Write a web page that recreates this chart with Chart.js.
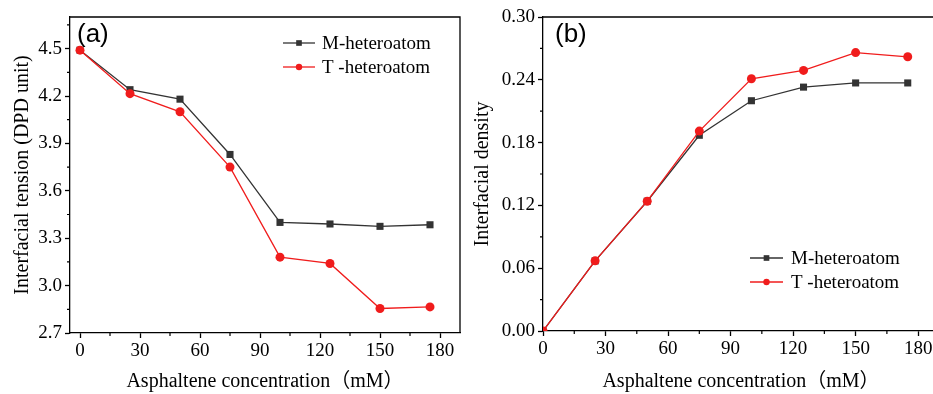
<!DOCTYPE html>
<html><head><meta charset="utf-8">
<script src="https://cdn.jsdelivr.net/npm/chart.js@4/dist/chart.umd.min.js"></script>
<style>
html,body{margin:0;padding:0;background:#fff;overflow:hidden;width:933px;height:394px;}
#wa{position:absolute;left:0;top:0;width:470px;height:394px;}
#wb{position:absolute;left:470px;top:0;width:480px;height:394px;}
canvas{display:block;}
</style></head><body>
<div id="wa"><canvas id="ca" width="470" height="394"></canvas></div>
<div id="wb"><canvas id="cb" width="480" height="394"></canvas></div>
<script>
// ---- data ----
const concentrations = [0, 25, 50, 75, 100, 125, 150, 175];
const tensionM = [4.49, 4.24, 4.18, 3.83, 3.40, 3.39, 3.375, 3.385];
const tensionT = [4.49, 4.215, 4.10, 3.75, 3.18, 3.14, 2.855, 2.865];
const densityM = [0, 0.067, 0.124, 0.187, 0.220, 0.233, 0.237, 0.237];
const densityT = [0, 0.067, 0.124, 0.191, 0.241, 0.249, 0.266, 0.262];
const seriesNames = ['M-heteroatom', 'T -heteroatom'];
const xTicks = [0, 30, 60, 90, 120, 150, 180];
const xMinorTicks = [15, 45, 75, 105, 135, 165];
const tensionTicks = [2.7, 3.0, 3.3, 3.6, 3.9, 4.2, 4.5];
const tensionMinorTicks = [2.85, 3.15, 3.45, 3.75, 4.05, 4.35, 4.65];
const densityTicks = [0, 0.06, 0.12, 0.18, 0.24, 0.30];
const densityMinorTicks = [0.03, 0.09, 0.15, 0.21, 0.27];
const xTitle = 'Asphaltene concentration（mM）';
const yTitleA = 'Interfacial tension (DPD unit)';
const yTitleB = 'Interfacial density';

// ---- styles ----
const SERIF = '"Liberation Serif", "Times New Roman", "Noto Sans CJK SC", serif';
const colM = '#333333';
const colT = '#f01c1c';

const pts = (ys) => concentrations.map((x, i) => ({x: x, y: ys[i]}));

function makeDatasets(mVals, tVals) {
  return [
    {label: seriesNames[0], data: pts(mVals), borderColor: colM, backgroundColor: colM,
     pointBackgroundColor: colM, pointBorderColor: colM, pointStyle: 'rect', pointRadius: 5,
     borderWidth: 1.3, pointBorderWidth: 0, order: 1, legendRadius: 4},
    {label: seriesNames[1], data: pts(tVals), borderColor: colT, backgroundColor: colT,
     pointBackgroundColor: colT, pointBorderColor: colT, pointStyle: 'circle', pointRadius: 4.5,
     borderWidth: 1.3, pointBorderWidth: 0, order: 0, legendRadius: 3.2}
  ];
}

const framePlugin = {
  id: 'frame',
  afterDraw(chart) {
    const {ctx, chartArea: a} = chart;
    ctx.save();
    ctx.strokeStyle = '#000'; ctx.lineWidth = 1.3;
    ctx.beginPath();
    ctx.moveTo(a.left, a.top); ctx.lineTo(a.right, a.top); ctx.lineTo(a.right, a.bottom);
    ctx.stroke();
    ctx.restore();
  }
};

const minorTicksPlugin = {
  id: 'minorTicks',
  afterDraw(chart, args, opts) {
    const {ctx, chartArea: a} = chart;
    const xs = chart.scales.x, ys = chart.scales.y;
    ctx.save();
    ctx.strokeStyle = '#000'; ctx.lineWidth = 1.2;
    ctx.beginPath();
    (opts.x || []).forEach(v => {
      const p = xs.getPixelForValue(v);
      if (p < a.left || p > a.right) return;
      ctx.moveTo(p, a.bottom); ctx.lineTo(p, a.bottom + 3);
    });
    (opts.y || []).forEach(v => {
      const p = ys.getPixelForValue(v);
      if (p < a.top || p > a.bottom) return;
      ctx.moveTo(a.left, p); ctx.lineTo(a.left - 3, p);
    });
    ctx.stroke();
    ctx.restore();
  }
};

const legendPlugin = {
  id: 'boxLegend',
  afterDraw(chart, args, opts) {
    const ctx = chart.ctx;
    ctx.save();
    ctx.font = opts.font;
    ctx.textBaseline = 'middle';
    ctx.textAlign = 'left';
    chart.data.datasets.forEach((ds, i) => {
      const y = opts.y + i * opts.rowGap;
      ctx.strokeStyle = ds.borderColor; ctx.lineWidth = ds.borderWidth;
      ctx.beginPath(); ctx.moveTo(opts.x, y); ctx.lineTo(opts.x + opts.lineLen, y); ctx.stroke();
      ctx.fillStyle = ds.pointBackgroundColor;
      Chart.helpers.drawPoint(ctx, {pointStyle: ds.pointStyle, radius: ds.legendRadius, rotation: 0, borderWidth: 0}, opts.x + opts.lineLen / 2, y);
      ctx.fillStyle = '#000';
      ctx.fillText(ds.label, opts.x + opts.lineLen + opts.gap, y + 1);
    });
    ctx.restore();
  }
};

const panelLabelPlugin = {
  id: 'panelLabel',
  afterDraw(chart, args, opts) {
    const ctx = chart.ctx;
    ctx.save();
    ctx.font = '26px "Liberation Sans", Arial, sans-serif';
    ctx.fillStyle = '#000';
    ctx.textBaseline = 'top';
    ctx.textAlign = 'left';
    ctx.fillText(opts.text, opts.x, opts.y);
    ctx.restore();
  }
};

function makeChart(canvasId, cfg) {
  return new Chart(document.getElementById(canvasId), {
    type: 'line',
    data: {datasets: cfg.datasets},
    plugins: [framePlugin, minorTicksPlugin, legendPlugin, panelLabelPlugin],
    options: {
      responsive: false,
      animation: false,
      devicePixelRatio: 1,
      layout: {padding: {top: 17, right: cfg.padRight, left: 0, bottom: 0}},
      plugins: {
        legend: {display: false},
        tooltip: {enabled: false},
        minorTicks: {x: xMinorTicks, y: cfg.yMinor},
        boxLegend: cfg.legend,
        panelLabel: cfg.label
      },
      scales: {
        x: {
          type: 'linear', min: cfg.xMin, max: cfg.xMax,
          afterBuildTicks: s => { s.ticks = xTicks.map(v => ({value: v})); },
          afterFit: s => { s.height = cfg.xHeight; },
          border: {display: true, color: '#000', width: 1.3},
          grid: {drawOnChartArea: false, drawTicks: true, tickLength: 5, tickColor: '#000', tickWidth: 1.3},
          ticks: {color: '#000', font: {family: SERIF, size: 19}, padding: 2, maxRotation: 0, autoSkip: false,
                  callback: v => String(v)},
          title: {display: true, text: xTitle, color: '#000', font: {family: SERIF, size: 20},
                  padding: {top: 0, bottom: 0}}
        },
        y: {
          type: 'linear', min: cfg.yMin, max: cfg.yMax,
          afterBuildTicks: s => { s.ticks = cfg.yTicks.map(v => ({value: v})); },
          afterFit: s => { s.width = cfg.yWidth; },
          border: {display: true, color: '#000', width: 1.3},
          grid: {drawOnChartArea: false, drawTicks: true, tickLength: 5, tickColor: '#000', tickWidth: 1.3},
          ticks: {color: '#000', font: {family: SERIF, size: 19}, padding: 3, autoSkip: false,
                  callback: v => v.toFixed(cfg.decimals)},
          title: {display: true, text: cfg.yTitle, color: '#000', font: {family: SERIF, size: 20},
                  padding: {top: cfg.yTitlePad, bottom: 0}}
        }
      }
    }
  });
}

makeChart('ca', {
  datasets: makeDatasets(tensionM, tensionT),
  xMin: -5, xMax: 190, yMin: 2.7, yMax: 4.7,
  yTicks: tensionTicks, yMinor: tensionMinorTicks, decimals: 1,
  yTitle: yTitleA, yTitlePad: 11,
  yWidth: 70, xHeight: 61, padRight: 10,
  legend: {x: 283, y: 43, lineLen: 32, gap: 7, rowGap: 24, font: '19px ' + SERIF},
  label: {text: '(a)', x: 77, y: 22}
});

makeChart('cb', {
  datasets: makeDatasets(densityM, densityT),
  xMin: 0, xMax: 190, yMin: 0, yMax: 0.30,
  yTicks: densityTicks, yMinor: densityMinorTicks, decimals: 2,
  yTitle: yTitleB, yTitlePad: 1,
  yWidth: 73, xHeight: 63, padRight: 11,
  legend: {x: 280, y: 258, lineLen: 33, gap: 8, rowGap: 24, font: '19px ' + SERIF},
  label: {text: '(b)', x: 85, y: 22}
});
</script>
</body></html>
